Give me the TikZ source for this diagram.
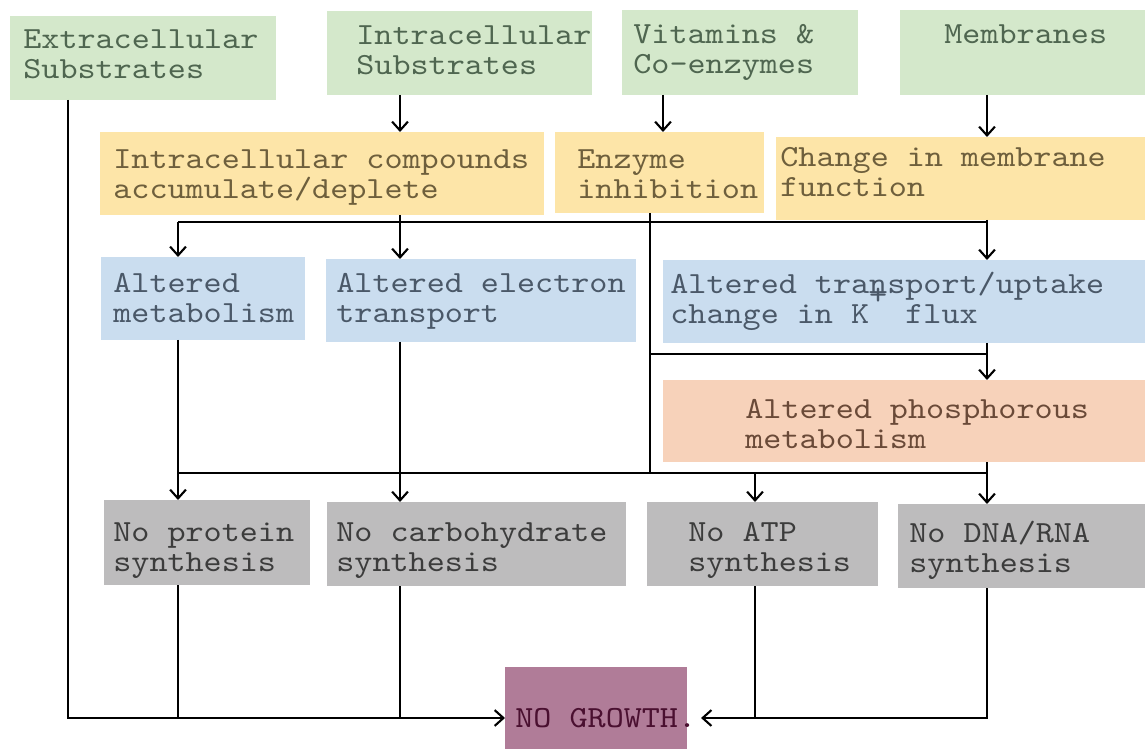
\documentclass[tikz,border=0pt]{standalone}
\usepackage{fontspec}
\setmonofont[FakeStretch=1.12]{lmmono10-regular.otf}
\usepackage{xcolor}
\usepackage{tikz}
\usetikzlibrary{arrows.meta,fit}

\definecolor{grnfill}{HTML}{D4E8CB}
\definecolor{grntxt}{HTML}{4F6650}
\definecolor{ylwfill}{HTML}{FDE5A8}
\definecolor{ylwtxt}{HTML}{6E5F3C}
\definecolor{blufill}{HTML}{CADDEF}
\definecolor{blutxt}{HTML}{4A5868}
\definecolor{orgfill}{HTML}{F7D2BA}
\definecolor{orgtxt}{HTML}{6A4A38}
\definecolor{gryfill}{HTML}{BDBCBD}
\definecolor{grytxt}{HTML}{3C3C3C}
\definecolor{prpfill}{HTML}{B07C98}
\definecolor{prptxt}{HTML}{4A1030}

\begin{document}
\begin{tikzpicture}[x=0.02cm,y=-0.02cm,
  box/.style={inner sep=0pt, outer sep=0pt},
  txt/.style={inner sep=0pt, anchor=north west, align=left,
    font=\ttfamily\fontsize{17.5}{17.1}\selectfont},
  link/.style={line width=1.2pt},
  >={Straight Barb[length=5pt,width=9pt]}]

\useasboundingbox (0,0) rectangle (1145,749);
\clip (0,0) rectangle (1145,749);
\fill[white] (0,0) rectangle (1145,749);

% sources
\node[box, fill=grnfill, fit={(10,16) (276,100)}] (ext) {};
\node[txt, text=grntxt] (ext-t) at (23,29) {Extracellular\\Substrates};
\node[box, fill=grnfill, fit={(327,11) (592,95)}] (intra) {};
\node[txt, text=grntxt] (intra-t) at (356,25) {Intracellular\\Substrates};
\node[box, fill=grnfill, fit={(622,10) (858,95)}] (vit) {};
\node[txt, text=grntxt] (vit-t) at (633,24) {Vitamins \&\\Co-enzymes};
\node[box, fill=grnfill, fit={(900,10) (1145,95)}] (mem) {};
\node[txt, text=grntxt] (mem-t) at (944,24) {Membranes};

% first effects
\node[box, fill=ylwfill, fit={(100,132) (544,215)}] (comp) {};
\node[txt, text=ylwtxt] (comp-t) at (113,149) {Intracellular compounds\\accumulate/deplete};
\node[box, fill=ylwfill, fit={(555,132) (764,213)}] (enz) {};
\node[txt, text=ylwtxt] (enz-t) at (577,149) {Enzyme\\inhibition};
\node[box, fill=ylwfill, fit={(776,137) (1145,220)}] (memf) {};
\node[txt, text=ylwtxt] (memf-t) at (780,147) {Change in membrane\\function};

% altered processes
\node[box, fill=blufill, fit={(101,257) (305,340)}] (alm) {};
\node[txt, text=blutxt] (alm-t) at (113,273) {Altered\\metabolism};
\node[box, fill=blufill, fit={(326,259) (636,342)}] (ale) {};
\node[txt, text=blutxt] (ale-t) at (336,273) {Altered electron\\transport};
\node[box, fill=blufill, fit={(663,260) (1145,343)}] (tra) {};
\node[txt, text=blutxt] (tra-t) at (670,272) {Altered transport/uptake\\change in K\smash{\raisebox{0.62em}{+}} flux};
\node[box, fill=orgfill, fit={(663,380) (1145,462)}] (phos) {};
\node[txt, text=orgtxt] (phos-t) at (745,399) {Altered phosphorous\\metabolism};

% syntheses
\node[box, fill=gryfill, fit={(104,500) (310,585)}] (prot) {};
\node[txt, text=grytxt] (prot-t) at (113,522) {No protein\\synthesis};
\node[box, fill=gryfill, fit={(327,502) (626,586)}] (carb) {};
\node[txt, text=grytxt] (carb-t) at (336,522) {No carbohydrate\\synthesis};
\node[box, fill=gryfill, fit={(647,502) (878,586)}] (atp) {};
\node[txt, text=grytxt] (atp-t) at (688,522) {No ATP\\synthesis};
\node[box, fill=gryfill, fit={(898,504) (1145,588)}] (dna) {};
\node[txt, text=grytxt] (dna-t) at (909,521) {No DNA/RNA\\synthesis};

\node[box, fill=prpfill, fit={(505,667) (687,769)}] (ng) {};
\node[txt, text=prptxt, anchor=west] (ng-t) at (515,718) {NO GROWTH.};

% columns and bus rows
\coordinate (c0) at (68,0);
\coordinate (c1) at (178,0);
\coordinate (c2) at (400,0);
\coordinate (c3) at (650,0);
\coordinate (c4) at (755,0);
\coordinate (c5) at (987,0);
\coordinate (c6) at (663,0);
\coordinate (r1) at (0,222);
\coordinate (r2) at (0,354);
\coordinate (r3) at (0,473);

\draw[link,->] (intra.south -| c2) -- (comp.north -| c2);
\draw[link,->] (vit.south -| c6) -- (enz.north -| c6);
\draw[link,->] (mem.south -| c5) -- (memf.north -| c5);

\draw[link] (c1 |- r1) -- (c5 |- r1);
\draw[link,->] (c1 |- r1) -- (alm.north -| c1);
\draw[link,->] (comp.south -| c2) -- (ale.north -| c2);
\draw[link,->] (memf.south -| c5) -- (tra.north -| c5);

\draw[link] (enz.south -| c3) -- (c3 |- r3);
\draw[link] (c3 |- r2) -- (c5 |- r2);
\draw[link,->] (tra.south -| c5) -- (phos.north -| c5);

\draw[link] (c1 |- r3) -- (c5 |- r3);
\draw[link,->] (alm.south -| c1) -- (prot.north -| c1);
\draw[link,->] (ale.south -| c2) -- (carb.north -| c2);
\draw[link,->] (c4 |- r3) -- (atp.north -| c4);
\draw[link,->] (phos.south -| c5) -- (dna.north -| c5);

\draw[link,->] (ext.south -| c0) |- (ng.west);
\draw[link] (prot.south -| c1) -- (c1 |- ng.west);
\draw[link] (carb.south -| c2) -- (c2 |- ng.west);
\draw[link,->] (dna.south -| c5) |- ([xshift=8]ng.east);
\draw[link] (atp.south -| c4) -- (c4 |- ng.east);

\end{tikzpicture}
\end{document}
